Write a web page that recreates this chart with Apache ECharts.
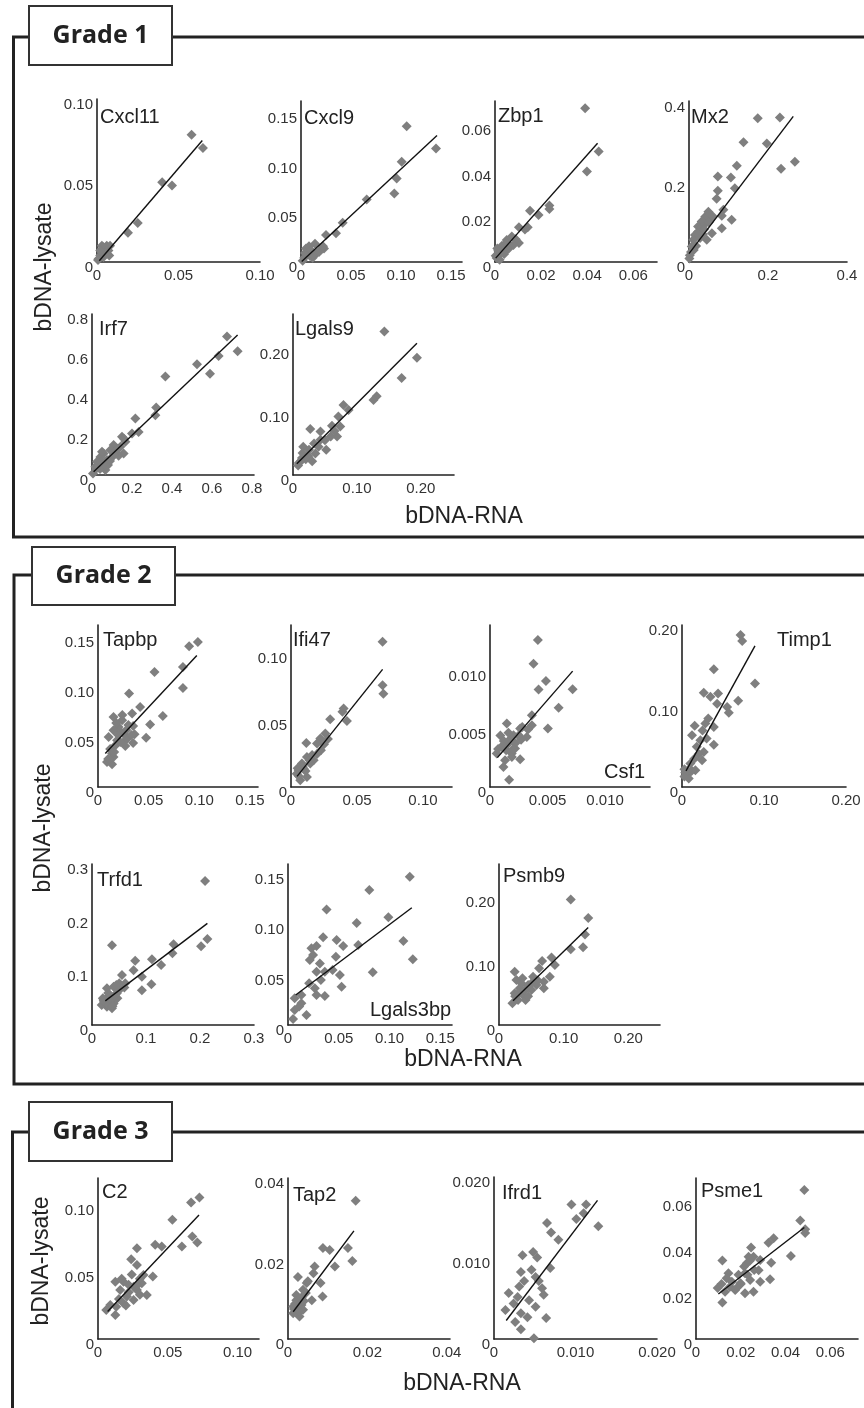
<!DOCTYPE html>
<html><head><meta charset="utf-8">
<script src="https://cdn.jsdelivr.net/npm/echarts@6/dist/echarts.min.js"></script>
<style>html,body{margin:0;padding:0;background:#fff}#c{width:864px;height:1408px}</style>
</head><body><div id="c"></div>
<script>
// ---------- DATA ----------
const yTitle = 'bDNA-lysate';
const xTitle = 'bDNA-RNA';
const gradeNames = ['Grade 1', 'Grade 2', 'Grade 3'];
const geneNames = ['Cxcl11','Cxcl9','Zbp1','Mx2','Irf7','Lgals9','Tapbp','Ifi47','Csf1','Timp1','Trfd1','Lgals3bp','Psmb9','C2','Tap2','Ifrd1','Psme1'];

const cxcl11 = [[0.058,0.078],[0.065,0.070],[0.040,0.049],[0.046,0.047],[0.025,0.024],[0.019,0.018],[0.004,0.009],[0.005,0.008],[0.002,0.004],[0.0006,0.0012],[0.003,0.006],[0.007,0.007],[0.006,0.010],[0.001,0.002],[0.004,0.003],[0.003,0.010],[0.008,0.010],[0.005,0.005],[0.002,0.007],[0.0075,0.004]];
const cxcl11Fit = [[0.0014,0.0008],[0.0646,0.0745]];
const cxcl9 = [[0.1057,0.1375],[0.1007,0.1014],[0.0957,0.0846],[0.0933,0.0693],[0.0657,0.0634],[0.0417,0.0397],[0.035,0.029],[0.025,0.0273],[0.023,0.0137],[0.014,0.0185],[0.005,0.0137],[0.0075,0.009],[0.0157,0.0088],[0.0033,0.0044],[0.0017,0.0012],[0.0117,0.0044],[0.02,0.0127],[0.135,0.115],[0.009,0.006],[0.008,0.016],[0.012,0.007],[0.018,0.010],[0.004,0.009],[0.022,0.016],[0.010,0.012]];
const cxcl9Fit = [[0.0007,0.0005],[0.136,0.128]];
const zbp1 = [[0.0391,0.0677],[0.045,0.0487],[0.0399,0.0398],[0.0236,0.0249],[0.0236,0.0233],[0.0189,0.0207],[0.0152,0.0226],[0.0142,0.0153],[0.013,0.0143],[0.0104,0.0153],[0.0104,0.0084],[0.0073,0.0112],[0.0051,0.0097],[0.003,0.0072],[0.0014,0.005],[0.0003,0.0028],[0.0022,0.0036],[0.0036,0.0058],[0.0058,0.008],[0.0007,0.0018],[0.0047,0.0050],[0.001,0.006],[0.004,0.0035],[0.006,0.006],[0.002,0.001],[0.009,0.010],[0.008,0.0075],[0.005,0.0085]];
const zbp1Fit = [[0.0003,0.0017],[0.0445,0.0523]];
const mx2 = [[0.174,0.361],[0.230,0.363],[0.138,0.301],[0.197,0.298],[0.268,0.252],[0.233,0.234],[0.121,0.242],[0.073,0.215],[0.106,0.212],[0.116,0.185],[0.073,0.179],[0.070,0.159],[0.087,0.131],[0.083,0.116],[0.108,0.106],[0.083,0.085],[0.041,0.114],[0.049,0.126],[0.032,0.102],[0.023,0.089],[0.045,0.056],[0.015,0.068],[0.011,0.056],[0.007,0.039],[0.002,0.017],[0.001,0.009],[0.023,0.076],[0.032,0.085],[0.054,0.106],[0.040,0.095],[0.050,0.100],[0.060,0.115],[0.035,0.070],[0.028,0.060],[0.018,0.040],[0.012,0.030],[0.005,0.025],[0.058,0.072],[0.038,0.082]];
const mx2Fit = [[0.0,0.021],[0.264,0.366]];
const irf7 = [[0.675,0.688],[0.728,0.615],[0.633,0.591],[0.525,0.55],[0.59,0.503],[0.367,0.49],[0.321,0.335],[0.317,0.297],[0.217,0.281],[0.233,0.214],[0.2,0.206],[0.15,0.19],[0.167,0.165],[0.142,0.14],[0.158,0.107],[0.133,0.096],[0.108,0.149],[0.092,0.124],[0.058,0.107],[0.075,0.074],[0.042,0.09],[0.05,0.115],[0.067,0.025],[0.033,0.058],[0.017,0.041],[0.005,0.008],[0.025,0.066],[0.04,0.03],[0.08,0.05],[0.12,0.12],[0.1,0.09],[0.06,0.06],[0.09,0.07],[0.11,0.10],[0.13,0.13],[0.02,0.03],[0.07,0.045],[0.045,0.065],[0.16,0.18]];
const irf7Fit = [[0.008,0.016],[0.728,0.696]];
const lgals9 = [[0.143,0.228],[0.194,0.186],[0.170,0.154],[0.131,0.125],[0.126,0.119],[0.079,0.111],[0.087,0.103],[0.071,0.093],[0.061,0.078],[0.074,0.077],[0.069,0.061],[0.043,0.069],[0.027,0.073],[0.052,0.040],[0.033,0.050],[0.016,0.045],[0.035,0.034],[0.014,0.027],[0.009,0.019],[0.024,0.030],[0.043,0.056],[0.059,0.061],[0.02,0.025],[0.012,0.022],[0.015,0.035],[0.025,0.040],[0.040,0.045],[0.050,0.055],[0.030,0.022],[0.065,0.070],[0.008,0.015]];
const lgals9Fit = [[0.006,0.018],[0.194,0.209]];
const tapbp = [[0.0986,0.145],[0.090,0.1407],[0.0839,0.120],[0.0839,0.099],[0.0558,0.115],[0.064,0.071],[0.0515,0.0624],[0.0475,0.0493],[0.0307,0.0934],[0.0416,0.080],[0.0337,0.0734],[0.0347,0.0609],[0.0361,0.0527],[0.0347,0.044],[0.0153,0.070],[0.0238,0.0667],[0.0203,0.060],[0.0153,0.0567],[0.0252,0.0532],[0.0105,0.050],[0.0188,0.0467],[0.0252,0.045],[0.0173,0.0417],[0.0139,0.0334],[0.0089,0.025],[0.0139,0.0227],[0.0153,0.030],[0.0292,0.0484],[0.0218,0.0561],[0.012,0.038],[0.020,0.052],[0.028,0.057],[0.018,0.064],[0.024,0.072],[0.030,0.062],[0.010,0.028],[0.016,0.035],[0.022,0.045],[0.033,0.052],[0.027,0.041]];
const tapbpFit = [[0.0072,0.0334],[0.0976,0.1315]];
const ifi47 = [[0.0694,0.109],[0.0694,0.0764],[0.070,0.070],[0.0424,0.0496],[0.0399,0.059],[0.039,0.0564],[0.0297,0.0509],[0.026,0.0401],[0.0222,0.0364],[0.0197,0.0327],[0.0227,0.0276],[0.0116,0.0331],[0.0172,0.020],[0.0121,0.0225],[0.0083,0.0176],[0.0058,0.0125],[0.0121,0.0075],[0.007,0.0051],[0.0043,0.010],[0.0098,0.0135],[0.0146,0.0176],[0.0197,0.0248],[0.006,0.008],[0.009,0.015],[0.011,0.012],[0.014,0.020],[0.016,0.024],[0.025,0.032],[0.028,0.036],[0.005,0.014]];
const ifi47Fit = [[0.0046,0.008],[0.0694,0.0883]];
const csf1 = [[0.00416,0.01276],[0.00378,0.0107],[0.00486,0.0092],[0.00422,0.00847],[0.00718,0.00849],[0.00596,0.00687],[0.00364,0.00623],[0.00364,0.00536],[0.00503,0.00507],[0.0032,0.00434],[0.00262,0.00507],[0.00258,0.00434],[0.00146,0.00551],[0.00204,0.00449],[0.0016,0.00377],[0.00102,0.00348],[0.00058,0.0029],[0.00189,0.0029],[0.00131,0.00232],[0.00117,0.00174],[0.00262,0.0024],[0.00218,0.00334],[0.00166,0.00064],[0.0027,0.00409],[0.0009,0.00448],[0.0012,0.0040],[0.0018,0.0042],[0.0014,0.0032],[0.0022,0.0038],[0.0011,0.0036],[0.0016,0.0047],[0.0020,0.0033],[0.0025,0.0045],[0.0007,0.0033],[0.0019,0.0026],[0.0028,0.0052],[0.0033,0.0050]];
const csf1Fit = [[0.00064,0.00255],[0.00718,0.01006]];
const timp1 = [[0.0714,0.1885],[0.0734,0.181],[0.089,0.1284],[0.0685,0.107],[0.0388,0.146],[0.0265,0.1168],[0.0347,0.1119],[0.044,0.1158],[0.0428,0.1031],[0.055,0.0992],[0.0571,0.092],[0.0285,0.0788],[0.0388,0.0745],[0.0155,0.0759],[0.0122,0.0642],[0.0224,0.058],[0.0388,0.0525],[0.0265,0.0435],[0.0245,0.0331],[0.0102,0.0291],[0.0163,0.0207],[0.0061,0.0145],[0.0082,0.0104],[0.0204,0.0409],[0.004,0.018],[0.012,0.02],[0.03,0.06],[0.003,0.013],[0.007,0.020],[0.015,0.035],[0.018,0.050],[0.025,0.070],[0.032,0.085],[0.003,0.022]];
const timp1Fit = [[0.0049,0.0199],[0.089,0.175]];
const trfd1 = [[0.2094,0.269],[0.2137,0.161],[0.202,0.147],[0.037,0.149],[0.151,0.151],[0.149,0.134],[0.128,0.112],[0.111,0.123],[0.11,0.076],[0.0924,0.090],[0.0924,0.065],[0.08,0.12],[0.077,0.1025],[0.0555,0.0935],[0.0616,0.078],[0.04,0.0716],[0.046,0.0592],[0.0277,0.0686],[0.0296,0.0529],[0.0214,0.0467],[0.0179,0.0374],[0.0277,0.0342],[0.04,0.040],[0.047,0.0498],[0.037,0.0312],[0.0505,0.078],[0.025,0.042],[0.033,0.045],[0.02,0.05],[0.028,0.040],[0.035,0.048],[0.042,0.055],[0.030,0.060],[0.050,0.065],[0.038,0.035],[0.060,0.070],[0.022,0.045],[0.045,0.075]];
const trfd1Fit = [[0.0246,0.045],[0.2137,0.19]];
const lgals3bp = [[0.120,0.148],[0.0801,0.1347],[0.038,0.1153],[0.0989,0.1076],[0.0677,0.1017],[0.1137,0.0838],[0.123,0.0656],[0.0835,0.0526],[0.0346,0.0875],[0.0479,0.0848],[0.0544,0.0789],[0.0692,0.0798],[0.0281,0.0789],[0.0231,0.0766],[0.0247,0.0699],[0.0314,0.0615],[0.0215,0.0648],[0.0472,0.0681],[0.0363,0.0532],[0.0439,0.0548],[0.0511,0.0499],[0.0528,0.0382],[0.0324,0.0449],[0.0264,0.0366],[0.0363,0.029],[0.0281,0.0299],[0.0208,0.0416],[0.0132,0.0299],[0.0066,0.0266],[0.0132,0.0216],[0.0182,0.010],[0.0066,0.0149],[0.005,0.006],[0.011,0.0184],[0.0281,0.0532]];
const lgals3bpFit = [[0.0076,0.030],[0.122,0.117]];
const psmb9 = [[0.111,0.197],[0.138,0.168],[0.133,0.142],[0.130,0.122],[0.111,0.119],[0.0864,0.0942],[0.0812,0.106],[0.0667,0.1006],[0.0786,0.0758],[0.0693,0.068],[0.0693,0.0575],[0.062,0.089],[0.0527,0.0758],[0.0243,0.0836],[0.027,0.0706],[0.0363,0.0733],[0.045,0.0629],[0.0502,0.0549],[0.0321,0.0575],[0.0243,0.0497],[0.0372,0.0471],[0.0295,0.0393],[0.0208,0.034],[0.0411,0.0393],[0.058,0.0629],[0.045,0.045],[0.055,0.07],[0.030,0.050],[0.040,0.055],[0.050,0.065],[0.035,0.065],[0.060,0.070],[0.025,0.045],[0.045,0.060]];
const psmb9Fit = [[0.0217,0.0382],[0.138,0.153]];
const c2 = [[0.0727,0.1058],[0.0667,0.1021],[0.0533,0.0891],[0.0676,0.0766],[0.0712,0.0722],[0.0601,0.0692],[0.041,0.0704],[0.0457,0.0692],[0.0279,0.0679],[0.0238,0.0597],[0.0279,0.0554],[0.0393,0.0467],[0.0326,0.0479],[0.0314,0.0417],[0.035,0.0329],[0.0124,0.0429],[0.0183,0.0429],[0.0219,0.0405],[0.0255,0.0391],[0.0159,0.0367],[0.0279,0.0367],[0.0207,0.0317],[0.0255,0.0292],[0.0183,0.0268],[0.0131,0.0242],[0.0088,0.0255],[0.0059,0.0217],[0.0124,0.018],[0.030,0.033],[0.0242,0.0483],[0.015,0.030],[0.022,0.035],[0.020,0.025],[0.028,0.040],[0.017,0.045],[0.030,0.045]];
const c2Fit = [[0.0069,0.0205],[0.0724,0.0928]];
const tap2 = [[0.01705,0.0345],[0.0151,0.0227],[0.0162,0.0195],[0.0118,0.0181],[0.0105,0.0222],[0.0088,0.0227],[0.0087,0.0106],[0.0082,0.014],[0.0067,0.0181],[0.0064,0.0164],[0.005,0.0144],[0.0038,0.0123],[0.0025,0.0155],[0.0047,0.014],[0.0021,0.0097],[0.0034,0.0085],[0.0013,0.0081],[0.0013,0.0064],[0.0029,0.0056],[0.0038,0.0073],[0.0021,0.011],[0.006,0.0097],[0.003,0.008],[0.002,0.007],[0.004,0.0095],[0.0015,0.0075],[0.0025,0.009],[0.003,0.0068],[0.0018,0.0088],[0.0035,0.0105],[0.0045,0.0115]];
const tap2Fit = [[0.0013,0.0068],[0.0166,0.027]];
const ifrd1 = [[0.0095,0.0167],[0.0113,0.0167],[0.011,0.0156],[0.0101,0.0149],[0.0128,0.014],[0.0065,0.0144],[0.007,0.0132],[0.0079,0.0123],[0.0069,0.0088],[0.0048,0.0108],[0.0053,0.0101],[0.0035,0.0104],[0.0033,0.0083],[0.0046,0.0086],[0.0051,0.0077],[0.0037,0.0072],[0.0031,0.0065],[0.0055,0.0072],[0.0059,0.0063],[0.0061,0.0055],[0.0018,0.0057],[0.0029,0.0052],[0.0043,0.0048],[0.0014,0.0036],[0.0033,0.0032],[0.0051,0.004],[0.0026,0.0021],[0.0033,0.0012],[0.0064,0.0026],[0.0049,0.0001],[0.0041,0.0027],[0.0024,0.0044]];
const ifrd1Fit = [[0.0015,0.0023],[0.0127,0.0172]];
const psme1 = [[0.0484,0.065],[0.0466,0.0517],[0.0488,0.0479],[0.0488,0.0462],[0.0424,0.0362],[0.0347,0.0439],[0.0324,0.042],[0.0336,0.0333],[0.0331,0.026],[0.0287,0.025],[0.0246,0.0399],[0.0257,0.0359],[0.0287,0.0345],[0.0227,0.033],[0.026,0.0301],[0.0219,0.0287],[0.019,0.028],[0.0242,0.0257],[0.0257,0.0206],[0.0219,0.0199],[0.0175,0.0214],[0.0152,0.0228],[0.013,0.0206],[0.0145,0.0287],[0.0137,0.0265],[0.0118,0.0342],[0.0114,0.024],[0.0097,0.0222],[0.0118,0.0159],[0.0199,0.0243],[0.0235,0.0359],[0.0215,0.0316],[0.020,0.024],[0.023,0.028],[0.016,0.025],[0.028,0.030],[0.024,0.034],[0.018,0.022]];
const psme1Fit = [[0.010,0.0196],[0.0484,0.0486]];

// tick labels
const ticks005_010 = ['0','0.05','0.10'];
const ticks005_015 = ['0','0.05','0.10','0.15'];
const ticks002_006 = ['0','0.02','0.04','0.06'];
const ticks02_04 = ['0','0.2','0.4'];
const ticks02_08 = ['0','0.2','0.4','0.6','0.8'];
const ticks010_020 = ['0','0.10','0.20'];
const ticks0005_0010 = ['0','0.005','0.010'];
const ticks01_03 = ['0','0.1','0.2','0.3'];
const ticks002_004 = ['0','0.02','0.04'];
const ticks0010_0020 = ['0','0.010','0.020'];

// ---------- LAYOUT ----------
const panels = [
  {d:cxcl11, f:cxcl11Fit, xt:ticks005_010, yt:ticks005_010, xmax:0.10, ymax:0.10, g:[97,99,260,262], lab:[100,117]},
  {d:cxcl9, f:cxcl9Fit, xt:ticks005_015, yt:ticks005_015, xmax:0.161, ymax:0.163, g:[301,101,462,262], lab:[304,118]},
  {d:zbp1, f:zbp1Fit, xt:ticks002_006, yt:ticks002_006, xmax:0.0703, ymax:0.0709, g:[495,101,657,262], lab:[498,116]},
  {d:mx2, f:mx2Fit, xt:ticks02_04, yt:ticks02_04, xmax:0.4, ymax:0.4045, g:[689,101,847,262], lab:[691,117]},
  {d:irf7, f:irf7Fit, xt:ticks02_08, yt:ticks02_08, xmax:0.81, ymax:0.8, g:[92,314,254,475], lab:[99,329]},
  {d:lgals9, f:lgals9Fit, xt:ticks010_020, yt:ticks010_020, xmax:0.252, ymax:0.2556, g:[293,314,454,475], lab:[295,329]},
  {d:tapbp, f:tapbpFit, xt:ticks005_015, yt:ticks005_015, xmax:0.158, ymax:0.162, g:[98,625,258,787], lab:[103,640]},
  {d:ifi47, f:ifi47Fit, xt:ticks005_010, yt:ticks005_010, xmax:0.122, ymax:0.1216, g:[291,625,452,787], lab:[293,640]},
  {d:csf1, f:csf1Fit, xt:ticks0005_0010, yt:ticks0005_0010, xmax:0.0139, ymax:0.01406, g:[490,625,650,787], lab:[604,772]},
  {d:timp1, f:timp1Fit, xt:ticks010_020, yt:ticks010_020, xmax:0.2, ymax:0.2009, g:[682,625,846,787], lab:[777,640]},
  {d:trfd1, f:trfd1Fit, xt:ticks01_03, yt:ticks01_03, xmax:0.3, ymax:0.301, g:[92,864,254,1025], lab:[97,880]},
  {d:lgals3bp, f:lgals3bpFit, xt:ticks005_015, yt:ticks005_015, xmax:0.1616, ymax:0.1607, g:[288,864,452,1025], lab:[370,1010]},
  {d:psmb9, f:psmb9Fit, xt:ticks010_020, yt:ticks010_020, xmax:0.249, ymax:0.2527, g:[499,864,660,1025], lab:[503,876]},
  {d:c2, f:c2Fit, xt:ticks005_010, yt:ticks005_010, xmax:0.1154, ymax:0.1204, g:[98,1178,259,1339], lab:[102,1192]},
  {d:tap2, f:tap2Fit, xt:ticks002_004, yt:ticks002_004, xmax:0.0408, ymax:0.0402, g:[288,1178,450,1339], lab:[293,1195]},
  {d:ifrd1, f:ifrd1Fit, xt:ticks0010_0020, yt:ticks0010_0020, xmax:0.02, ymax:0.0201, g:[494,1177,657,1339], lab:[502,1193]},
  {d:psme1, f:psme1Fit, xt:ticks002_006, yt:ticks002_006, xmax:0.0724, ymax:0.0702, g:[696,1178,858,1339], lab:[701,1191]}
];

const TICK_FONT = '"Liberation Sans Narrow", "Liberation Sans", Arial, sans-serif';
const TXT_FONT = '"Liberation Sans", Arial, sans-serif';
const INK = '#222';

function fmt(list){
  return function(v){
    for (const s of list){ if (Math.abs(parseFloat(s) - v) < 1e-9) return s; }
    return '';
  };
}

const grid = [], xAxis = [], yAxis = [], series = [], graphic = [];
panels.forEach((p, i) => {
  const [l,t,r,b] = p.g;
  grid.push({left:l, top:t, width:r-l, height:b-t, outerBoundsMode:'none', containLabel:false});
  const axLine = {show:true, onZero:false, lineStyle:{color:INK, width:1.6}};
  xAxis.push({type:'value', gridIndex:i, min:0, max:p.xmax, axisLine:axLine, axisTick:{show:false}, splitLine:{show:false},
    axisLabel:{customValues:p.xt.map(parseFloat), formatter:fmt(p.xt), margin:6, color:'#333', fontSize:15, fontFamily:TICK_FONT, hideOverlap:false, showMinLabel:true, showMaxLabel:true}});
  yAxis.push({type:'value', gridIndex:i, min:0, max:p.ymax, axisLine:axLine, axisTick:{show:false}, splitLine:{show:false},
    axisLabel:{customValues:p.yt.map(parseFloat), formatter:fmt(p.yt), margin:4, color:'#333', fontSize:15, fontFamily:TICK_FONT, verticalAlign:'top', lineHeight:11, hideOverlap:false, showMinLabel:true, showMaxLabel:true}});
  series.push({type:'scatter', xAxisIndex:i, yAxisIndex:i, data:p.d, symbol:'diamond', symbolSize:10, itemStyle:{color:'#7f7f7f', opacity:1}, silent:true, z:2});
  series.push({type:'line', xAxisIndex:i, yAxisIndex:i, data:p.f, showSymbol:false, symbol:'none', lineStyle:{color:'#111', width:1.4}, silent:true, z:3});
  graphic.push({type:'text', x:p.lab[0], y:p.lab[1], z:10, style:{text:geneNames[i], font:'20px '+TXT_FONT, fill:INK, verticalAlign:'middle', align:'left'}});
});

// frames
const frames = [
  {top:37, leftX:13.5, bottom:537, box:[29,6,143,59], text:[100.5,36]},
  {top:575, leftX:14, bottom:1084, box:[32,547,143,58], text:[103.5,576]},
  {top:1132, leftX:12.5, bottom:null, box:[29,1102,143,59], text:[100.5,1132]}
];
frames.forEach((fr, k) => {
  const pts = [[fr.box[0], fr.top],[fr.leftX, fr.top],[fr.leftX, fr.bottom === null ? 1410 : fr.bottom]];
  if (fr.bottom !== null) pts.push([866, fr.bottom]);
  graphic.push({type:'polyline', shape:{points:pts}, style:{stroke:INK, lineWidth:3, fill:null}, z:1});
  graphic.push({type:'line', shape:{x1:fr.box[0]+fr.box[2], y1:fr.top, x2:866, y2:fr.top}, style:{stroke:INK, lineWidth:3}, z:1});
  graphic.push({type:'rect', shape:{x:fr.box[0], y:fr.box[1], width:fr.box[2], height:fr.box[3]}, style:{fill:'#fff', stroke:'#333', lineWidth:2}, z:2});
  graphic.push({type:'text', x:fr.text[0], y:fr.text[1], z:3, style:{text:gradeNames[k], font:'bold 25px "Open Sans", "DejaVu Sans", sans-serif', fill:INK, align:'center', verticalAlign:'middle'}});
});

// axis titles
const yTitlePos = [[45,267],[44,828],[42,1261]];
const xTitlePos = [[464,517],[463,1060],[462,1384]];
yTitlePos.forEach(p => graphic.push({type:'text', x:p[0], y:p[1], rotation:Math.PI/2, z:5, style:{text:yTitle, font:'23px '+TXT_FONT, fill:INK, align:'center', verticalAlign:'middle'}}));
xTitlePos.forEach(p => graphic.push({type:'text', x:p[0], y:p[1], z:5, style:{text:xTitle, font:'23px '+TXT_FONT, fill:INK, align:'center', verticalAlign:'middle'}}));

const chart = echarts.init(document.getElementById('c'), null, {renderer:'canvas', width:864, height:1408});
chart.setOption({animation:false, backgroundColor:'#fff', grid, xAxis, yAxis, series, graphic});
</script></body></html>
